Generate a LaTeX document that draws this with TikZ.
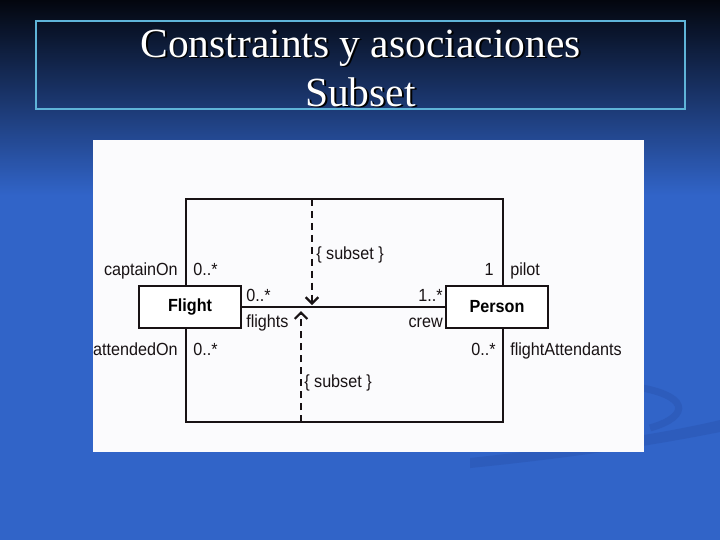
\documentclass[tikz,border=0pt]{standalone}
\usepackage{fontspec}
\setmainfont{Liberation Serif}
\newfontfamily\umlfont[FakeStretch=0.92]{Liberation Sans}
\usetikzlibrary{arrows.meta}
\definecolor{fondoarriba}{HTML}{03060E}
\definecolor{fondoazul}{HTML}{3164C8}
\definecolor{estela}{HTML}{2D5CBC}
\definecolor{marcotitulo}{HTML}{5FB4D8}
\definecolor{sombratitulo}{HTML}{000000}
\definecolor{linea}{HTML}{181214}
\definecolor{papel}{HTML}{FBFBFD}
\newcommand{\sombra}[1]{\rlap{\kern1.3pt\raisebox{-1.3pt}{\color{sombratitulo}#1}}#1}
\tikzset{
  titulo/.style={text=white, inner sep=0pt, anchor=base, font=\fontsize{29.5}{34}\selectfont},
  clase/.style={draw=linea, line width=1.5pt, fill=white, inner sep=0pt,
    minimum width=2.55cm, minimum height=1.05cm, font=\umlfont\bfseries\fontsize{12.5}{14}\selectfont},
  etiqueta/.style={text=linea, inner sep=0pt, font=\umlfont\fontsize{12.5}{14}\selectfont},
  asoc/.style={draw=linea, line width=1.5pt},
  restriccion/.style={draw=linea, line width=1.1pt, dash pattern=on 5pt off 3.5pt,
    -{Straight Barb[length=4.5pt,width=9pt,line width=1.6pt]}}
}

\begin{document}
\begin{tikzpicture}[x=0.025cm, y=-0.025cm]
  \useasboundingbox (0,0) rectangle (720,540);
  % fondo de la diapositiva
  \fill[fondoazul] (0,0) rectangle (720,540);
  \foreach \i in {0,...,194}{
    \pgfmathsetmacro{\mezcla}{100-\i/1.95}
    \fill[fondoarriba!\mezcla!fondoazul] (0,\i) rectangle (720,\i+1.4);
  }
  \fill[estela] (470,458) .. controls (590,445) and (670,432) .. (720,420) -- (720,432) .. controls (670,442) and (590,456) .. (470,468) -- cycle;
  \draw[estela, line width=5pt] (630,386) .. controls (690,394) and (692,416) .. (650,428);
  % titulo
  \draw[marcotitulo, line width=0.9pt] (36,21) rectangle (685,109);
  \node[titulo] (titulo1) at (360.5,57) {\sombra{Constraints y asociaciones}};
  \node[titulo] (titulo2) at (360.5,106) {\sombra{Subset}};
  % diagrama escaneado
  \fill[papel] (93,140) rectangle (644,452);
  \begin{scope}
    \clip (93,140) rectangle (644,452);
    \node[clase] (flight) at (190,307) {Flight};
    \node[clase] (person) at (497,307) {Person};
    \coordinate (ftop) at (186,199);
    \coordinate (ptop) at (503,199);
    \coordinate (fbot) at (186,422);
    \coordinate (pbot) at (503,422);
    \draw[asoc] (flight.north -| ftop) -- (ftop) -- (ptop) -- (person.north -| ptop);
    \draw[asoc] (flight.east) -- (person.west);
    \draw[asoc] (flight.south -| fbot) -- (fbot) -- (pbot) -- (person.south -| pbot);
    \coordinate (sub1) at (312,199);
    \coordinate (sub2) at (301,422);
    \draw[restriccion] (sub1) -- (312,305);
    \draw[restriccion] (sub2) -- (301,311);
    % roles y multiplicidades
    \node[etiqueta, anchor=base east] (captainOn) at (178,275) {captainOn};
    \node[etiqueta, anchor=base west] (m1) at (193,275) {0..*};
    \node[etiqueta, anchor=base east] (attendedOn) at (178,355) {attendedOn};
    \node[etiqueta, anchor=base west] (m2) at (193,355) {0..*};
    \node[etiqueta, anchor=base west] (m3) at (246,301) {0..*};
    \node[etiqueta, anchor=base west] (flights) at (246,327) {flights};
    \node[etiqueta, anchor=base east] (m4) at (443,301) {1..*};
    \node[etiqueta, anchor=base east] (crew) at (443,327) {crew};
    \node[etiqueta, anchor=base east] (m5) at (494,275) {1};
    \node[etiqueta, anchor=base west] (pilot) at (510,275) {pilot};
    \node[etiqueta, anchor=base east] (m6) at (496,355) {0..*};
    \node[etiqueta, anchor=base west] (flightAttendants) at (510,355) {flightAttendants};
    \node[etiqueta, anchor=base west] (subset1) at (316,259) {\{ subset \}};
    \node[etiqueta, anchor=base west] (subset2) at (304,387) {\{ subset \}};
  \end{scope}
\end{tikzpicture}
\end{document}
